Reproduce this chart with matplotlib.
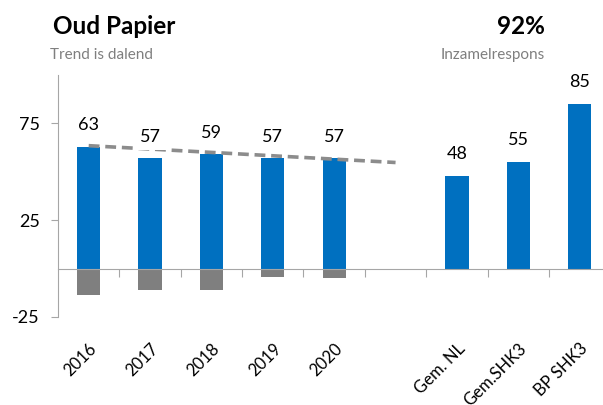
import matplotlib.pyplot as plt
import numpy as np

plt.rcParams['font.family'] = ['Lato', 'DejaVu Sans']
plt.rcParams['axes.unicode_minus'] = False

# data
categories = ["2016", "2017", "2018", "2019", "2020", "", "Gem. NL", "Gem.SHK3", "BP SHK3"]
positive = [63, 57, 59, 57, 57, np.nan, 48, 55, 85]
negative = [-13.5, -11.2, -11.2, -4.4, -5.0, np.nan, np.nan, np.nan, np.nan]
trend_x = [0, 5]
trend_y = [63.5, 54.8]
yticks = [-25, 25, 75]

blue = "#0070C0"
grey = "#7F7F7F"
axis_grey = "#A6A6A6"

fig = plt.figure(figsize=(6.03, 4.05), dpi=100)
ax = fig.add_axes([58 / 603, 0.2173, 1 - 58 / 603, 0.5975])

x = np.arange(len(categories))
ax.bar(x, positive, width=0.38, color=blue, zorder=2)
ax.bar(x, negative, width=0.38, color=grey, zorder=2)

# trend line (dashed grey)
ax.plot(trend_x, trend_y, color="#8C8C8C", linewidth=2.6, dashes=(3, 1.6), zorder=3)

# value labels on top of the blue bars
for xi, v in zip(x, positive):
    if np.isnan(v):
        continue
    ax.annotate(f"{v:.0f}", (xi, v), xytext=(0, 12), textcoords="offset points",
                ha="center", va="baseline", fontsize=13, zorder=4,
                bbox=dict(boxstyle="square,pad=0.3", fc="white", ec="none"))

ax.set_xlim(-0.5, 8.38)
ax.set_ylim(-25, 100)

# axes styling
for side in ["top", "right"]:
    ax.spines[side].set_visible(False)
ax.spines["left"].set_color(axis_grey)
ax.spines["bottom"].set_color(axis_grey)
ax.spines["bottom"].set_position(("data", 0))
ax.set_yticks(yticks)
ax.tick_params(axis="y", direction="out", length=5, color=axis_grey, labelsize=13, pad=8)

# tick marks between categories on the zero line
ax.set_xticks(x[:-1] + 0.5)
ax.tick_params(axis="x", direction="out", length=6, color=axis_grey, labelbottom=False)

# category labels along the bottom of the plot
sec = ax.secondary_xaxis(0)
sec.spines["bottom"].set_visible(False)
sec.set_xticks(x, labels=categories)
sec.tick_params(length=0, pad=17, labelsize=12)
for lbl in sec.get_xticklabels():
    lbl.set_rotation(45)
    lbl.set_ha("right")
    lbl.set_rotation_mode("anchor")

# titles
fig.text(53 / 603, 1 - 34 / 405, "Oud Papier", fontsize=17.5, fontweight="bold", va="baseline")
fig.text(50 / 603, 1 - 59 / 405, "Trend is dalend", fontsize=11, color="#7F7F7F", va="baseline")
fig.text(545 / 603, 1 - 34 / 405, "92%", fontsize=17.5, fontweight="bold", va="baseline", ha="right")
fig.text(545 / 603, 1 - 59 / 405, "Inzamelrespons", fontsize=11, color="#7F7F7F", va="baseline", ha="right")

fig.savefig("out.png", dpi=100)
